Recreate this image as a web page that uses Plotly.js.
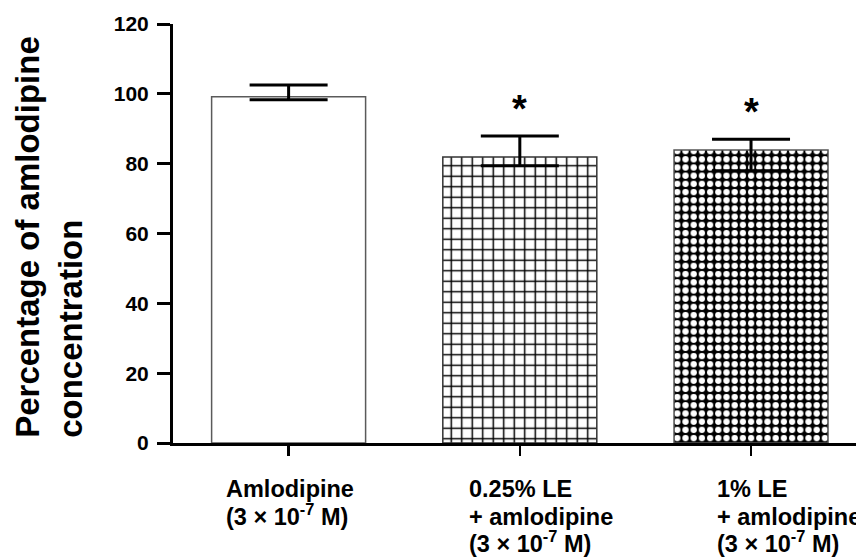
<!DOCTYPE html>
<html>
<head>
<meta charset="utf-8">
<script src="https://cdn.plot.ly/plotly-3.0.1.min.js"></script>
<style>html,body{margin:0;padding:0;background:#fff;}#chart{width:856px;height:559px;}</style>
</head>
<body>
<div id="chart"></div>
<script>
// ---- data ----
const categories = ['Amlodipine', '0.25% LE + amlodipine', '1% LE + amlodipine'];
const tickLabels = [
  'Amlodipine<br>(3 × 10<sup>-7</sup> M)',
  '0.25% LE<br>+ amlodipine<br>(3 × 10<sup>-7</sup> M)',
  '1% LE<br>+ amlodipine<br>(3 × 10<sup>-7</sup> M)'
];
const values = [99.2, 81.9, 83.9];
const errUpper = [3.3, 6.0, 3.1];
const errLower = [0.9, 2.5, 5.9];
const significance = ['', '*', '*'];
const yTickVals = [0, 20, 40, 60, 80, 100, 120];
const yTitle = 'Percentage of amlodipine<br>concentration';

// ---- style ----
const FONT = 'Liberation Sans, Arial, Helvetica, sans-serif';
const LABEL_SIZE = 23.5;
const LINE_STEP = 27.5;
const barStyles = [
  { color: '#ffffff', line: '#5a5a5a', pattern: { shape: '' } },
  { color: '#ffffff', line: '#333333', pattern: { shape: '+', bgcolor: '#ffffff', fgcolor: '#000000', size: 10.5, solidity: 0.26, fillmode: 'replace' } },
  { color: '#000000', line: '#555555', pattern: { shape: '.', bgcolor: '#000000', fgcolor: '#ffffff', size: 8.2, solidity: 0.46, fillmode: 'replace' } }
];

const traces = categories.map((c, i) => ({
  type: 'bar',
  name: c,
  x: [i],
  y: [values[i]],
  width: 0.666,
  marker: {
    color: barStyles[i].color,
    line: { color: barStyles[i].line, width: 1.5 },
    pattern: barStyles[i].pattern
  },
  error_y: {
    type: 'data', symmetric: false,
    array: [errUpper[i]], arrayminus: [errLower[i]],
    color: '#000000', thickness: 3, width: 39
  },
  hoverinfo: 'skip'
}));

// text width helper for label placement
const cv = document.createElement('canvas').getContext('2d');
function textWidth(str, size) {
  cv.font = 'bold ' + size + 'px "Liberation Sans", Arial, sans-serif';
  return cv.measureText(str.replace(/<[^>]+>/g, '')).width;
}

const annotations = [];
// x category labels: first line centred on the tick, following lines left-aligned with it
tickLabels.forEach((lbl, i) => {
  const lines = lbl.split('<br>');
  const w1 = textWidth(lines[0], LABEL_SIZE);
  lines.forEach((ln, k) => {
    annotations.push({
      x: i, xref: 'x', y: 0, yref: 'paper',
      xanchor: 'left', yanchor: 'bottom',
      xshift: -w1 / 2, borderpad: 0,
      yshift: -60 - k * LINE_STEP,
      text: ln, showarrow: false,
      font: { family: FONT, size: LABEL_SIZE, color: '#000', weight: 'bold' }
    });
  });
});
// significance markers
significance.forEach((s, i) => {
  if (!s) return;
  annotations.push({
    x: i, xref: 'x', y: values[i] + errUpper[i], yref: 'y',
    xanchor: 'center', yanchor: 'bottom', yshift: 4,
    text: s, showarrow: false,
    font: { family: FONT, size: 38, color: '#000', weight: 'bold' }
  });
});
// y title (left-aligned two-line, rotated)
annotations.push({
  x: -0.181, xref: 'paper', y: 0.493, yref: 'paper',
  xanchor: 'center', yanchor: 'middle',
  textangle: -90, align: 'left',
  text: yTitle, showarrow: false,
  font: { family: FONT, size: 33, color: '#000', weight: 'bold' }
});

const layout = {
  width: 856, height: 559,
  margin: { l: 173, r: 0, t: 24, b: 116, pad: 0 },
  paper_bgcolor: '#ffffff', plot_bgcolor: '#ffffff',
  showlegend: false,
  barmode: 'overlay',
  xaxis: {
    range: [-0.5, 2.454],
    tickvals: categories.map((_, i) => i),
    showticklabels: false,
    ticks: 'outside', ticklen: 10, tickwidth: 2.5, tickcolor: '#000',
    showline: true, linecolor: '#000', linewidth: 3,
    showgrid: false, zeroline: false, fixedrange: true
  },
  yaxis: {
    range: [0, 120],
    tickvals: yTickVals,
    ticks: 'outside', ticklen: 13, tickwidth: 3, tickcolor: '#000',
    ticklabelstandoff: 4,
    tickfont: { family: FONT, size: 21, color: '#000', weight: 'bold' },
    showline: true, linecolor: '#000', linewidth: 3,
    showgrid: false, zeroline: false, fixedrange: true
  },
  annotations: annotations
};

Plotly.newPlot('chart', traces, layout, { staticPlot: true, displayModeBar: false });
</script>
</body>
</html>
